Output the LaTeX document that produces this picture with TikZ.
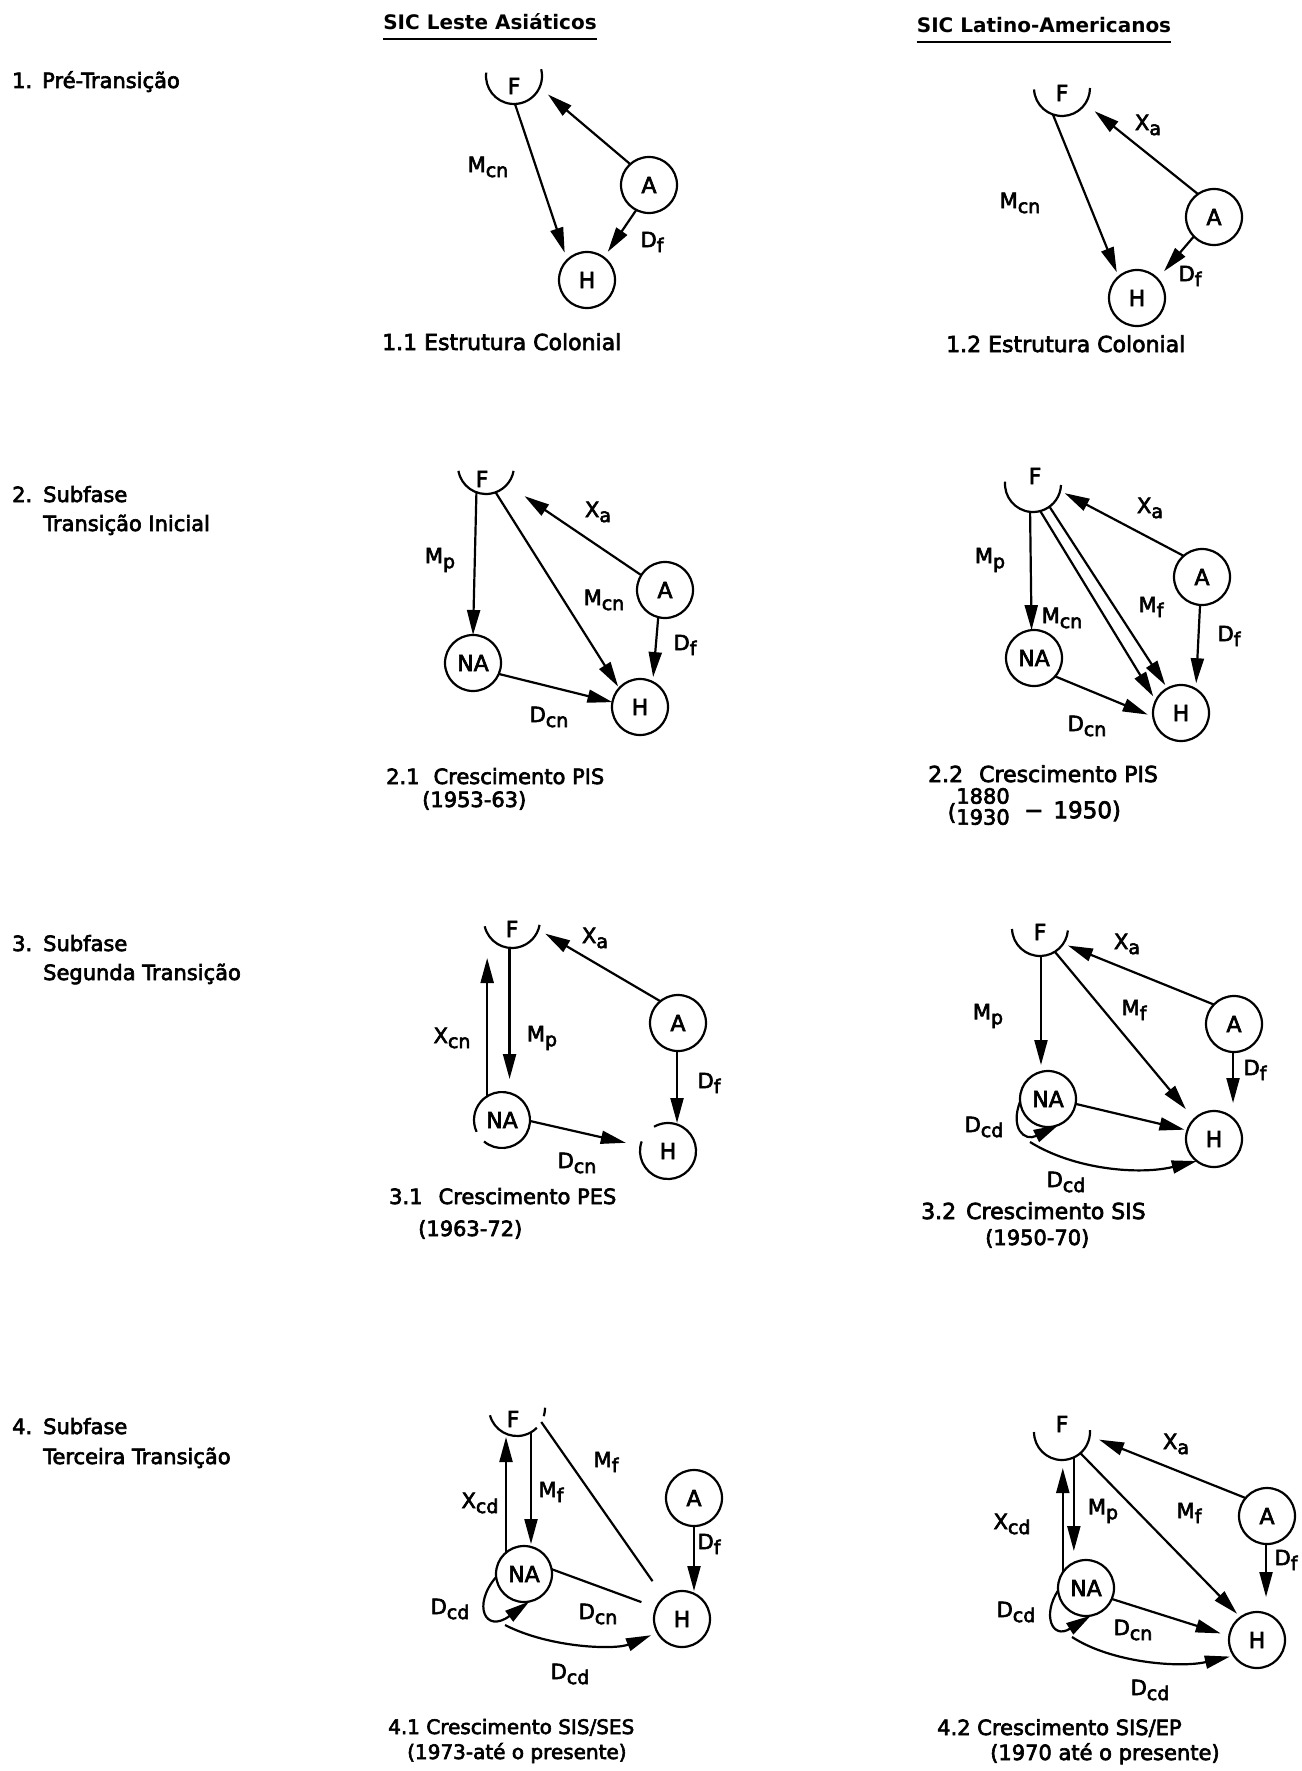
\documentclass[tikz,border=0pt]{standalone}
\usepackage{fontspec}
\setmainfont{DejaVu Sans}[FakeBold=3]
\newfontfamily\hdfont{DejaVu Sans Bold}
\usetikzlibrary{arrows.meta}
\newcommand{\lb}[2]{#1\raisebox{-5pt}{\fontsize{19}{19}\selectfont #2}}
\begin{document}
\begin{tikzpicture}[x=1pt,y=-1pt,
  ln/.style={line width=2.2pt},
  arr/.style={line width=2.2pt,-{Triangle[length=25pt,width=13pt]}},
  circ/.style={circle,draw,line width=2.2pt,minimum size=56pt,inner sep=0pt,outer sep=0pt,font=\fontsize{22}{22}\selectfont},
  ghost/.style={circle,minimum size=56pt,inner sep=0pt,outer sep=0pt,font=\fontsize{22}{22}\selectfont},
  lbl/.style={inner sep=0pt,font=\fontsize{21}{21}\selectfont},
  txt/.style={inner sep=0pt,anchor=base west,font=\fontsize{21}{21}\selectfont},
  hd/.style={inner sep=0pt,anchor=base,font=\hdfont\fontsize{20}{20}\selectfont},
]
\fill[white] (0,0) rectangle (1301,1771);
\useasboundingbox (0,0) rectangle (1301,1771);

% headers
\node[hd] (h1) at (490,30) {SIC Leste Asiáticos};
\draw[line width=1.8pt] ([yshift=-9pt]h1.base west) -- ([yshift=-9pt]h1.base east);
\node[hd] (h2) at (1044,33) {SIC Latino-Americanos};
\draw[line width=1.8pt] ([yshift=-9pt]h2.base west) -- ([yshift=-9pt]h2.base east);

% row titles
\node[txt] (r1a) at (12,88) {1.};
\node[txt] (r1b) at (42,88) {Pré-Transição};
\node[txt] (r2a) at (12,502) {2.};
\node[txt] (r2b) at (43,502) {Subfase};
\node[txt] (r2c) at (43,531) {Transição Inicial};
\node[txt] (r3a) at (12,951) {3.};
\node[txt] (r3b) at (43,951) {Subfase};
\node[txt] (r3c) at (43,980) {Segunda Transição};
\node[txt] (r4a) at (12,1434) {4.};
\node[txt] (r4b) at (43,1434) {Subfase};
\node[txt] (r4c) at (43,1464) {Terceira Transição};

% ---------- 1.1
\node[ghost] (F11) at (514,76) {};
\node[ghost,minimum size=0pt] (tF11) at (514,86) {F};
\draw[ln] (F11.173) arc[start angle=173,end angle=374,radius=28pt];
\node[circ] (A11) at (649,185) {A};
\node[circ] (H11) at (587,280) {H};
\draw[arr,shorten >=8pt] (F11.272) -- (H11.135);
\draw[arr,shorten >=11pt] (A11.132) -- (F11.336);
\draw[arr,shorten >=7pt] (A11.243) -- (H11.53);
\node[lbl] (l11a) at (488,167) {\lb{M}{cn}};
\node[lbl] (l11b) at (652,242) {\lb{D}{f}};
\node[txt,font=\fontsize{22}{22}\selectfont] (c11) at (382,350) {1.1 Estrutura Colonial};

% ---------- 1.2
\node[ghost] (F12) at (1062,88) {};
\node[ghost,minimum size=0pt] (tF12) at (1062,93) {F};
\draw[ln] (F12.183) arc[start angle=183,end angle=360,radius=28pt];
\node[circ] (A12) at (1214,217) {A};
\node[circ] (H12) at (1137,298) {H};
\draw[arr,shorten >=5pt] (F12.251) -- (H12.131);
\draw[arr,shorten >=12pt] (A12.125) -- (F12.326);
\draw[arr,shorten >=10pt] (A12.224) -- (H12.43);
\node[lbl] (l12a) at (1148,125) {\lb{X}{a}};
\node[lbl] (l12b) at (1190,276) {\lb{D}{f}};
\node[lbl] (l12c) at (1020,203) {\lb{M}{cn}};
\node[txt,font=\fontsize{22}{22}\selectfont] (c12) at (946,352) {1.2 Estrutura Colonial};

% ---------- 2.1
\node[ghost] (F21) at (486,466) {};
\node[ghost,minimum size=0pt] (tF21) at (482,479) {F};
\draw[ln] (F21.190) arc[start angle=190,end angle=350,radius=28pt];
\node[circ] (NA21) at (473,663) {NA};
\node[circ] (H21) at (640,707) {H};
\node[circ] (A21) at (665,590) {A};
\draw[arr] (F21.250) -- (NA21.90);
\draw[arr,shorten >=2pt] (F21.290) -- (H21.138);
\draw[arr,shorten >=21pt] (A21.148) -- (F21.319);
\draw[arr,shorten >=5pt] (A21.256) -- (H21.63);
\draw[arr] (NA21.337) -- (H21.170);
\node[lbl] (l21a) at (440,560) {\lb{M}{p}};
\node[lbl] (l21b) at (604,600) {\lb{M}{cn}};
\node[lbl] (l21c) at (598,512) {\lb{X}{a}};
\node[lbl] (l21d) at (685,645) {\lb{D}{f}};
\node[lbl] (l21e) at (549,717) {\lb{D}{cn}};
\node[txt] (c21a) at (386,784) {2.1\hspace{14pt}Crescimento PIS};
\node[txt] (c21b) at (422,807) {(1953-63)};

% ---------- 2.2
\node[ghost] (F22) at (1033,484) {};
\node[ghost,minimum size=0pt] (tF22) at (1035,476) {F};
\draw[ln] (F22.175) arc[start angle=175,end angle=358,radius=28pt];
\node[circ] (NA22) at (1034,658) {NA};
\node[circ] (H22) at (1181,713) {H};
\node[circ] (A22) at (1202,577) {A};
\draw[arr] (F22.264) -- (NA22.95);
\draw[arr,shorten >=5pt] (F22.285) -- (H22.154);
\draw[arr,shorten >=4pt] (F22.306) -- (H22.119);
\draw[arr,shorten >=5pt] (A22.131) -- (F22.346);
\draw[arr,shorten >=6pt] (A22.266) -- (H22.58);
\draw[arr,shorten >=6pt] (NA22.319) -- (H22.188);
\node[lbl] (l22a) at (990,560) {\lb{M}{p}};
\node[lbl] (l22b) at (1062,618) {\lb{M}{cn}};
\node[lbl] (l22c) at (1151,607) {\lb{M}{f}};
\node[lbl] (l22d) at (1150,508) {\lb{X}{a}};
\node[lbl] (l22e) at (1229,636) {\lb{D}{f}};
\node[lbl] (l22f) at (1087,726) {\lb{D}{cn}};
\node[txt,font=\fontsize{22}{22}\selectfont] (c22a) at (928,782) {2.2\hspace{16pt}Crescimento PIS};
\node[lbl,font=\fontsize{22}{22}\selectfont] (c22b) at (952,813) {(};
\node[lbl] (c22c) at (983,796) {1880};
\node[lbl] (c22d) at (983,817) {1930};
\node[lbl,anchor=west,font=\fontsize{23}{23}\selectfont] (c22e) at (1024,811) {−\hspace{10pt}1950)};

% ---------- 3.1
\node[ghost] (F31) at (512,920) {};
\node[ghost,minimum size=0pt] (tF31) at (512,929) {F};
\draw[ln] (F31.193) arc[start angle=193,end angle=350,radius=28pt];
\node[ghost] (NA31) at (502,1120) {NA};
\draw[ln] (NA31.230) arc[start angle=230,end angle=565,radius=28pt];
\node[ghost] (H31) at (668,1151) {H};
\draw[ln] (H31.160) arc[start angle=160,end angle=480,radius=28pt];
\node[circ] (A31) at (678,1023) {A};
\draw[arr,shorten >=10pt] (NA31.122) -- (NA31.122 |- F31.south);
\draw[arr,shorten >=13pt] (F31.265) -- (F31.265 |- NA31.north);
\draw[arr,shorten >=8pt] (A31.129) -- (F31.340);
\draw[arr] (A31.268) -- (A31.268 |- H31.north);
\draw[arr,shorten >=15pt] (NA31.358) -- (H31.170);
\node[lbl] (l31a) at (452,1038) {\lb{X}{cn}};
\node[lbl] (l31b) at (542,1038) {\lb{M}{p}};
\node[lbl] (l31c) at (595,938) {\lb{X}{a}};
\node[lbl] (l31d) at (709,1083) {\lb{D}{f}};
\node[lbl] (l31e) at (577,1163) {\lb{D}{cn}};
\node[txt] (c31a) at (389,1204) {3.1\hspace{16pt}Crescimento PES};
\node[txt] (c31b) at (418,1236) {(1963-72)};

% ---------- 3.2
\node[ghost] (F32) at (1040,928) {};
\node[ghost,minimum size=0pt] (tF32) at (1040,932) {F};
\draw[ln] (F32.182) arc[start angle=182,end angle=355,radius=28pt];
\node[circ] (A32) at (1234,1024) {A};
\node[circ] (NA32) at (1048,1099) {NA};
\node[circ] (H32) at (1214,1139) {H};
\draw[arr,shorten >=6pt] (F32.272) -- (F32.272 |- NA32.north);
\draw[arr,shorten >=13pt] (F32.302) -- (H32.135);
\draw[arr,shorten >=5pt] (A32.136) -- (F32.326);
\draw[arr,shorten >=8pt] (A32.268) -- (A32.268 |- H32.north);
\draw[arr,shorten >=3pt] (NA32.350) -- (H32.162);
\draw[arr] (NA32.185) .. controls (1010,1128) and (1024,1142) .. (NA32.292);
\coordinate (s32) at (1030,1142);
\draw[arr] (s32) .. controls (1075,1170) and (1140,1175) .. (H32.232);
\node[lbl] (l32a) at (988,1016) {\lb{M}{p}};
\node[lbl] (l32b) at (1134,1010) {\lb{M}{f}};
\node[lbl] (l32c) at (1127,944) {\lb{X}{a}};
\node[lbl] (l32d) at (1255,1070) {\lb{D}{f}};
\node[lbl] (l32e) at (984,1127) {\lb{D}{cd}};
\node[lbl] (l32f) at (1066,1182) {\lb{D}{cd}};
\node[txt,font=\fontsize{22}{22}\selectfont] (c32a) at (921,1219) {3.2\hspace{10pt}Crescimento SIS};
\node[txt] (c32b) at (985,1245) {(1950-70)};

% ---------- 4.1
\node[ghost] (F41) at (517,1408) {};
\node[ghost,minimum size=0pt] (tF41) at (513,1419) {F};
\draw[ln] (F41.195) arc[start angle=195,end angle=315,radius=28pt];
\draw[ln] (F41.343) arc[start angle=343,end angle=360,radius=29pt];
\node[circ] (NA41) at (524,1574) {NA};
\node[circ] (H41) at (682,1619) {H};
\node[circ] (A41) at (694,1498) {A};
\draw[arr,shorten >=1pt] (NA41.130) -- (NA41.130 |- F41.south);
\draw[arr,shorten >=2pt] (F41.300) -- (F41.300 |- NA41.north);
\draw[ln,shorten >=20pt] (F41.330) -- (H41.130);
\draw[ln,shorten >=16pt] (NA41.10) -- (H41.156);
\draw[arr] (A41.270) -- (A41.270 |- H41.north);
\draw[arr] (NA41.186) .. controls (472,1605) and (485,1634) .. (NA41.281);
\coordinate (s41) at (505,1625);
\draw[arr,shorten >=7pt] (s41) .. controls (550,1648) and (615,1650) .. (H41.209);
\node[lbl] (l41a) at (606,1462) {\lb{M}{f}};
\node[lbl] (l41b) at (551,1492) {\lb{M}{f}};
\node[lbl] (l41c) at (480,1503) {\lb{X}{cd}};
\node[lbl] (l41d) at (709,1544) {\lb{D}{f}};
\node[lbl] (l41e) at (598,1614) {\lb{D}{cn}};
\node[lbl] (l41f) at (450,1609) {\lb{D}{cd}};
\node[lbl] (l41g) at (570,1674) {\lb{D}{cd}};
\node[txt,font=\fontsize{20}{20}\selectfont] (c41a) at (388,1734) {4.1 Crescimento SIS/SES};
\node[txt,font=\fontsize{20}{20}\selectfont] (c41b) at (407,1759) {(1973-até o presente)};

% ---------- 4.2
\node[ghost] (F42) at (1062,1432) {};
\node[ghost,minimum size=0pt] (tF42) at (1062,1424) {F};
\draw[ln] (F42.180) arc[start angle=180,end angle=364,radius=28pt];
\node[circ] (A42) at (1267,1516) {A};
\node[circ] (NA42) at (1086,1588) {NA};
\node[circ] (H42) at (1257,1640) {H};
\draw[arr,shorten >=9pt] (F42.295) -- (F42.295 |- NA42.north);
\draw[arr,shorten >=8pt] (NA42.146) -- (NA42.146 |- F42.south);
\draw[arr,shorten >=5pt] (F42.311) -- (H42.126);
\draw[arr,shorten >=10pt] (A42.140) -- (F42.352);
\draw[arr,shorten >=15pt] (A42.268) -- (A42.268 |- H42.north);
\draw[arr,shorten >=9pt] (NA42.337) -- (H42.172);
\draw[arr] (NA42.185) .. controls (1042,1615) and (1052,1640) .. (NA42.280);
\coordinate (s42) at (1072,1637);
\draw[arr,shorten >=4pt] (s42) .. controls (1112,1663) and (1180,1668) .. (H42.214);
\node[lbl] (l42a) at (1176,1444) {\lb{X}{a}};
\node[lbl] (l42b) at (1012,1524) {\lb{X}{cd}};
\node[lbl] (l42c) at (1103,1511) {\lb{M}{p}};
\node[lbl] (l42d) at (1189,1513) {\lb{M}{f}};
\node[lbl] (l42e) at (1286,1560) {\lb{D}{f}};
\node[lbl] (l42f) at (1016,1612) {\lb{D}{cd}};
\node[lbl] (l42g) at (1133,1630) {\lb{D}{cn}};
\node[lbl] (l42h) at (1150,1690) {\lb{D}{cd}};
\node[txt] (c42a) at (937,1735) {4.2 Crescimento SIS/EP};
\node[txt] (c42b) at (990,1760) {(1970 até o presente)};
\end{tikzpicture}
\end{document}
